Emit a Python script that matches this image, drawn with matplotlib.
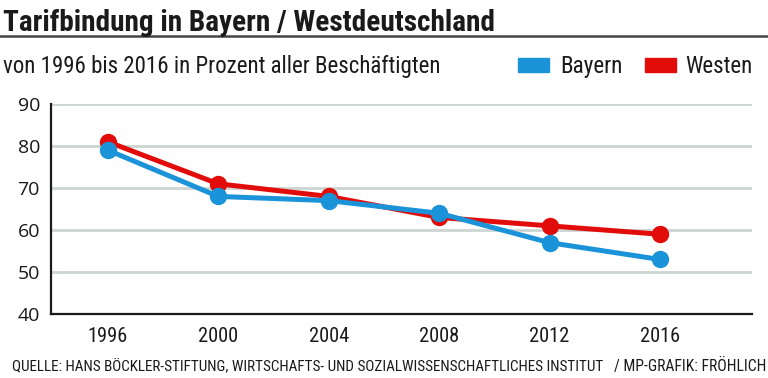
import matplotlib
matplotlib.use('Agg')
import matplotlib.pyplot as plt
from matplotlib.patches import Rectangle
from matplotlib.lines import Line2D

years = [1996, 2000, 2004, 2008, 2012, 2016]
bayern = [79, 68, 67, 64, 57, 53]
westen = [81, 71, 68, 63, 61, 59]
yticks = [40, 50, 60, 70, 80, 90]

BLUE = '#1b93d9'
RED = '#e20d0a'
GRID = '#ccd5d2'
INK = '#1a1a1a'
NARROW = ['Roboto Condensed', 'Liberation Sans Narrow', 'DejaVu Sans Condensed', 'Roboto', 'DejaVu Sans']

plt.rcParams['font.family'] = NARROW

fig = plt.figure(figsize=(7.68, 3.78), dpi=100)
renderer = fig.canvas.get_renderer()


def fit_width(t, target_px):
    # scale font size so the text is as wide as in the reference
    w = t.get_window_extent(renderer).width
    t.set_fontsize(t.get_fontsize() * target_px / w)
    return t


ax = fig.add_axes([0.0664, 0.169, 0.9126, 0.556])

ax.plot(years, westen, color=RED, lw=3.6, marker='o', ms=11.5, solid_capstyle='round', zorder=3)
ax.plot(years, bayern, color=BLUE, lw=3.6, marker='o', ms=11.5, solid_capstyle='round', zorder=4)

ax.set_xlim(1993.94, 2019.33)
ax.set_ylim(40, 90)
ax.set_xticks(years)
ax.set_yticks(yticks)
ax.set_yticklabels([str(v) for v in yticks], family=['Open Sans', 'DejaVu Sans'], fontsize=14)
ax.tick_params(axis='y', length=0, pad=8, colors=INK)
ax.tick_params(axis='x', length=0, pad=9, colors=INK)

for v in yticks[1:]:
    ax.axhline(v, color=GRID, lw=2, zorder=1)

for s in ['top', 'right']:
    ax.spines[s].set_visible(False)
for s in ['left', 'bottom']:
    ax.spines[s].set_linewidth(1.6)
    ax.spines[s].set_color(INK)

# x tick labels: narrow font, about 40 px wide
fig.canvas.draw()
lab = ax.get_xticklabels()
w0 = lab[0].get_window_extent(renderer).width
xsize = lab[0].get_fontsize() * 40 / w0
ax.tick_params(axis='x', labelsize=xsize)

# header
fit_width(fig.text(0.004, 0.975, 'Tarifbindung in Bayern / Westdeutschland', fontsize=18,
                   fontweight='bold', va='top', ha='left', color=INK), 492)
fig.add_artist(Line2D([0, 1], [0.905, 0.905], color='#444444', lw=1.8, transform=fig.transFigure))
fit_width(fig.text(0.004, 0.825, 'von 1996 bis 2016 in Prozent aller Beschäftigten', fontsize=14.5,
                   va='center', ha='left', color=INK), 436)

# legend
fig.add_artist(Rectangle((518 / 768, 0.8095), 31 / 768, 0.037, color=BLUE, transform=fig.transFigure))
fit_width(fig.text(560 / 768, 0.825, 'Bayern', fontsize=14.5, va='center', ha='left', color=INK), 62)
fig.add_artist(Rectangle((645 / 768, 0.8095), 31 / 768, 0.037, color=RED, transform=fig.transFigure))
fit_width(fig.text(685 / 768, 0.825, 'Westen', fontsize=14.5, va='center', ha='left', color=INK), 67)

# footer
fit_width(fig.text(12 / 768, 0.0185, 'QUELLE: HANS BÖCKLER-STIFTUNG, WIRTSCHAFTS- UND SOZIALWISSENSCHAFTLICHES INSTITUT',
                   fontsize=9.5, va='baseline', ha='left', color=INK), 591)
fit_width(fig.text(766 / 768, 0.0185, '/ MP-GRAFIK: FRÖHLICH', fontsize=9.5, va='baseline', ha='right',
                   color=INK), 152)

fig.savefig('out.png', dpi=100)
